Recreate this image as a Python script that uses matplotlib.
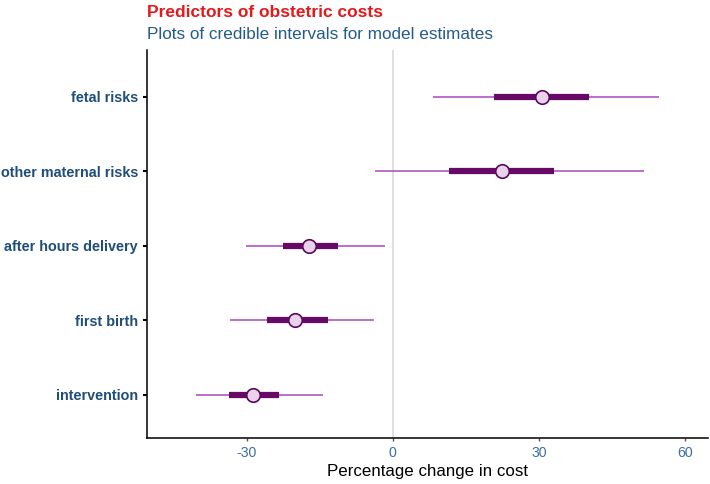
import matplotlib.pyplot as plt

plt.rcParams["font.family"] = ["Liberation Sans", "DejaVu Sans"]

# predictors, bottom to top
predictors = ["intervention", "first birth", "after hours delivery",
              "other maternal risks", "fetal risks"]
estimate = [-28.7, -20.1, -17.2, 22.4, 30.6]
outer_lo = [-40.5, -33.5, -30.1, -3.6, 8.3]
outer_hi = [-14.3, -3.8, -1.7, 51.6, 54.7]
inner_lo = [-33.6, -25.9, -22.5, 11.5, 20.7]
inner_hi = [-23.3, -13.3, -11.2, 33.2, 40.3]
x_ticks = [-30, 0, 30, 60]

fig = plt.figure(figsize=(7.1, 4.84), dpi=100)
ax = fig.add_axes([0.207, 0.095, 0.79, 0.802])

# reference line at zero
ax.axvline(0, color="#dcdcdc", lw=1.3, zorder=0)

ypos = list(range(len(predictors)))
ax.hlines(ypos, outer_lo, outer_hi, color="#b563c4", lw=1.3, zorder=1)
ax.hlines(ypos, inner_lo, inner_hi, color="#660a66", lw=4.5, zorder=2)
ax.scatter(estimate, ypos, s=95, facecolor="#ead3ea", edgecolor="#5a0a5a",
           linewidth=1.2, zorder=3)

ax.set_xlim(-50.5, 64.7)
ax.set_ylim(-0.58, 4.63)
ax.set_yticks(ypos)
ax.set_yticklabels(predictors, fontweight="bold", color="#1f4e79", fontsize=10.4)
ax.set_xticks(x_ticks)
ax.set_xticklabels([str(t) for t in x_ticks], color="#3a6ea5", fontsize=10.2)
ax.tick_params(axis="y", length=3, width=1.5)
ax.tick_params(axis="x", length=2, width=1, color="#555555")
ax.set_xlabel("Percentage change in cost", fontsize=12.2, labelpad=3)

ax.spines["top"].set_visible(False)
ax.spines["right"].set_visible(False)
ax.spines["left"].set_linewidth(1.1)
ax.spines["bottom"].set_linewidth(1.1)

fig.text(0.207, 0.99, "Predictors of obstetric costs", color="#e31a1c",
         fontsize=12.5, fontweight="bold", va="top")
fig.text(0.207, 0.945, "Plots of credible intervals for model estimates",
         color="#255a8a", fontsize=12.3, va="top")

fig.savefig("out.png", dpi=100)
